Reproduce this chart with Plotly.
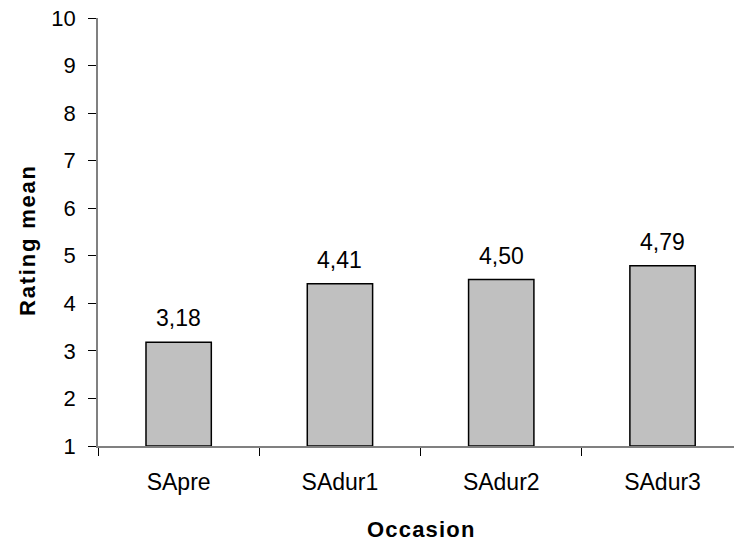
import plotly.graph_objects as go

categories = ["SApre", "SAdur1", "SAdur2", "SAdur3"]
values = [3.18, 4.41, 4.50, 4.79]
value_labels = ["3,18", "4,41", "4,50", "4,79"]
y_ticks = [1, 2, 3, 4, 5, 6, 7, 8, 9, 10]

FONT = "Liberation Sans, Arial, sans-serif"

fig = go.Figure()
fig.add_trace(go.Bar(
    x=categories,
    y=[v - 1 for v in values],
    base=[1] * len(values),
    width=0.405,
    marker=dict(color="#c0c0c0", line=dict(color="#000000", width=1.5)),
    hoverinfo="skip",
))

for c, v, t in zip(categories, values, value_labels):
    fig.add_annotation(x=c, y=v, text=t, showarrow=False, xanchor="center",
                       yanchor="bottom", yshift=9,
                       font=dict(family=FONT, size=23, color="#000000"))

fig.add_annotation(xref="paper", yref="paper", x=(421 - 98) / 636, y=-(529 - 446) / 428,
                   text="<span style='letter-spacing:1.2px'><b>Occasion</b></span>",
                   showarrow=False, xanchor="center", yanchor="middle",
                   font=dict(family=FONT, size=22, color="#000000"))
fig.add_annotation(xref="paper", yref="paper", x=(27 - 98) / 636, y=(446 - 240) / 428,
                   text="<span style='letter-spacing:1.8px'><b>Rating mean</b></span>",
                   showarrow=False, xanchor="center", yanchor="middle",
                   textangle=-90,
                   font=dict(family=FONT, size=22, color="#000000"))

fig.update_layout(
    width=734, height=542,
    margin=dict(l=98, r=0, t=18, b=96),
    paper_bgcolor="white", plot_bgcolor="white",
    showlegend=False,
    font=dict(family=FONT, size=22, color="#000000"),
    xaxis=dict(
        type="category", range=[-0.5, 3.443], tickson="boundaries",
        ticks="outside", ticklen=8, tickwidth=1, tickcolor="#000000",
        showline=True, linecolor="#808080", linewidth=1.5,
        showgrid=False, zeroline=False, ticklabelstandoff=15,
        tickfont=dict(family=FONT, size=23, color="#000000"),
    ),
    yaxis=dict(
        range=[1, 10], tickvals=y_ticks, ticktext=[str(t) for t in y_ticks],
        ticks="outside", ticklen=8, tickwidth=1, tickcolor="#000000",
        showline=True, linecolor="#808080", linewidth=1.5,
        showgrid=False, zeroline=False, ticklabelstandoff=8,
        tickfont=dict(family=FONT, size=22, color="#000000"),
    ),
)

fig.write_html("out.html", config={"displayModeBar": False},
               post_script="document.body.style.margin='0';document.body.style.padding='0';")
